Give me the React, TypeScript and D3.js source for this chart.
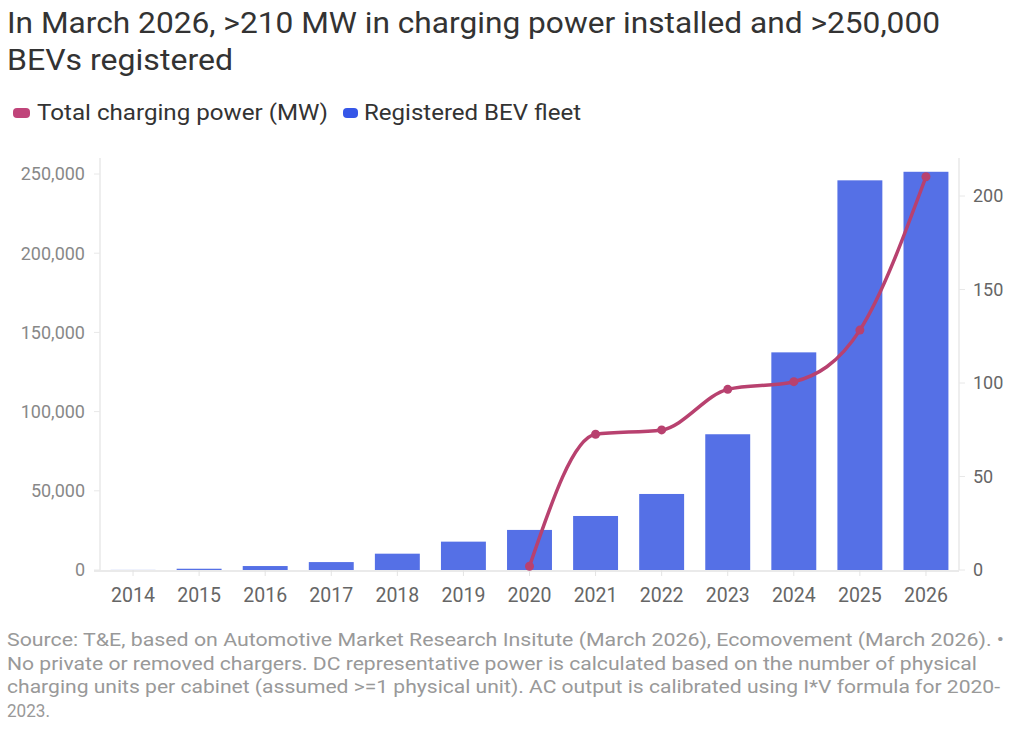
import React from "react";
import * as d3 from "d3";

const years = ["2014","2015","2016","2017","2018","2019","2020","2021","2022","2023","2024","2025","2026"];
const bevFleet = [60, 800, 2500, 5000, 10300, 17900, 25300, 34100, 48000, 85700, 137400, 246000, 251400];
const powerYears = ["2020","2021","2022","2023","2024","2025","2026"];
const chargingPower = [2, 72.6, 74.9, 96.6, 100.7, 128.3, 210.3];
const leftTicks = [0, 50000, 100000, 150000, 200000, 250000];
const rightTicks = [0, 50, 100, 150, 200];

const titleLines = [
  "In March 2026, >210 MW in charging power installed and >250,000",
  "BEVs registered",
];
const footerLines = [
  "Source: T&E, based on Automotive Market Research Insitute (March 2026), Ecomovement (March 2026). •",
  "No private or removed chargers. DC representative power is calculated based on the number of physical",
  "charging units per cabinet (assumed >=1 physical unit). AC output is calibrated using I*V formula for 2020-",
  "2023.",
];
const legendItems = ["Total charging power (MW)", "Registered BEV fleet"];

const BAR = "#5570e6";
const LINE = "#b8416f";
const FONT = "Roboto, 'Noto Sans', sans-serif";

export default function App() {
  const W = 1024, H = 745;
  const left = 100, right = 959, bottom = 570;
  const x = d3.scaleBand<string>().domain(years).range([left, right]).paddingInner(0.32).paddingOuter(0.16);
  const yL = d3.scaleLinear().domain([0, 250000]).range([bottom, 174]);
  const yR = d3.scaleLinear().domain([0, 200]).range([bottom, 196]);
  const fmt = d3.format(",");
  const pts: [number, number][] = powerYears.map((yr, i) => [x(yr)! + x.bandwidth() / 2, yR(chargingPower[i])]);
  const line = d3.line().curve(d3.curveMonotoneX)(pts) || "";

  const titleWidths = [933, 226];
  const footerWidths = [997, 970, 993, 43];

  return (
    <svg width={W} height={H} style={{ position: "absolute", left: 0, top: 0, background: "#fff" }} fontFamily={FONT}>
      <rect width={W} height={H} fill="#fff" />
      {titleLines.map((t, i) => (
        <text key={i} x={7} y={33 + i * 37} fontSize={29} fill="#333" textLength={titleWidths[i]} lengthAdjust="spacingAndGlyphs">{t}</text>
      ))}
      {/* legend */}
      <rect x={13} y={108} width={17} height={10} rx={4} fill="#c0447a" />
      <text x={37} y={120} fontSize={22} fill="#333" textLength={291} lengthAdjust="spacingAndGlyphs">{legendItems[0]}</text>
      <rect x={343} y={108} width={15} height={10} rx={4} fill="#3657e8" />
      <text x={364} y={120} fontSize={22} fill="#333" textLength={217} lengthAdjust="spacingAndGlyphs">{legendItems[1]}</text>

      {/* axes lines */}
      <line x1={left} x2={left} y1={158} y2={bottom} stroke="#e8e8e8" strokeWidth={1.5} />
      <line x1={right} x2={right} y1={158} y2={bottom} stroke="#e8e8e8" strokeWidth={1.5} />
      <line x1={left - 6} x2={right} y1={bottom + 1} y2={bottom + 1} stroke="#e3e3e3" strokeWidth={1.5} />
      {leftTicks.map((t) => (
        <g key={t}>
          <line x1={left - 6} x2={left} y1={yL(t)} y2={yL(t)} stroke="#e8e8e8" />
          <text x={85} y={yL(t)} dy="0.35em" textAnchor="end" fontSize={18} fill="#888">{fmt(t)}</text>
        </g>
      ))}
      {rightTicks.map((t) => (
        <g key={t}>
          <line x1={right} x2={right + 6} y1={yR(t)} y2={yR(t)} stroke="#e8e8e8" />
          <text x={973} y={yR(t)} dy="0.35em" textAnchor="start" fontSize={18} fill="#666">{t}</text>
        </g>
      ))}
      {years.map((yr) => (
        <g key={yr}>
          <line x1={x(yr)! + x.bandwidth() / 2} x2={x(yr)! + x.bandwidth() / 2} y1={bottom} y2={bottom + 6} stroke="#e3e3e3" />
          <text x={x(yr)! + x.bandwidth() / 2} y={602} textAnchor="middle" fontSize={19.5} fill="#666">{yr}</text>
        </g>
      ))}
      {/* bars */}
      {years.map((yr, i) => (
        <rect key={yr} x={x(yr)!} y={yL(bevFleet[i])} width={x.bandwidth()} height={bottom - yL(bevFleet[i])} fill={BAR} />
      ))}
      {/* line */}
      <path d={line} fill="none" stroke={LINE} strokeWidth={3.5} strokeLinejoin="round" />
      {pts.map((p, i) => (
        <circle key={i} cx={p[0]} cy={p[1]} r={4.5} fill={LINE} />
      ))}
      {/* footer */}
      {footerLines.map((t, i) => (
        <text key={i} x={7} y={646 + i * 23.5} fontSize={17.5} fill="#999" textLength={footerWidths[i]} lengthAdjust="spacingAndGlyphs">{t}</text>
      ))}
    </svg>
  );
}
